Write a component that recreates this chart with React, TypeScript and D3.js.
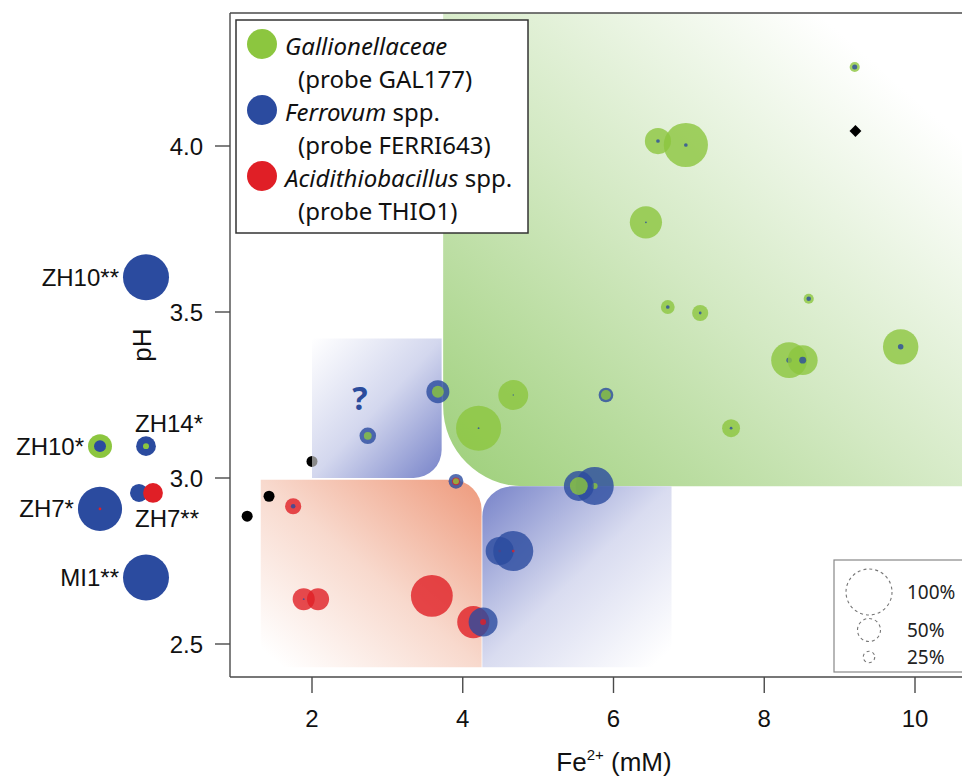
import React from 'react';
import * as d3 from 'd3';

// ---- data ----
const xTicks = [2, 4, 6, 8, 10];
const yTicks = [2.5, 3.0, 3.5, 4.0];

const probes = [
	{ key: 'gal', name: 'Gallionellaceae', suffix: '', probe: '(probe GAL177)', color: '#8cc63f' },
	{ key: 'ferr', name: 'Ferrovum', suffix: ' spp.', probe: '(probe FERRI643)', color: '#2b4b9f' },
	{ key: 'thio', name: 'Acidithiobacillus', suffix: ' spp.', probe: '(probe THIO1)', color: '#e01f26' },
];

// relative abundance (%) of each probe, per sample
const samples = [
	{ fe: 9.20, ph: 4.238, gal: 22, ferr: 11, thio: 0 },
	{ fe: 6.59, ph: 4.015, gal: 57, ferr: 8, thio: 0 },
	{ fe: 6.96, ph: 4.003, gal: 96, ferr: 8, thio: 0 },
	{ fe: 6.43, ph: 3.77, gal: 70, ferr: 4, thio: 0 },
	{ fe: 6.72, ph: 3.515, gal: 30, ferr: 8, thio: 0 },
	{ fe: 7.15, ph: 3.497, gal: 35, ferr: 6, thio: 0 },
	{ fe: 8.59, ph: 3.54, gal: 22, ferr: 10, thio: 0 },
	{ fe: 8.33, ph: 3.355, gal: 78, ferr: 12, thio: 0 },
	{ fe: 8.51, ph: 3.355, gal: 65, ferr: 15, thio: 0 },
	{ fe: 9.81, ph: 3.395, gal: 77, ferr: 12, thio: 0 },
	{ fe: 7.56, ph: 3.15, gal: 39, ferr: 6, thio: 0 },
	{ fe: 4.67, ph: 3.25, gal: 65, ferr: 3, thio: 0 },
	{ fe: 4.21, ph: 3.15, gal: 98, ferr: 4, thio: 0 },
	{ fe: 3.67, ph: 3.26, gal: 26, ferr: 50, thio: 0 },
	{ fe: 5.90, ph: 3.25, gal: 22, ferr: 32, thio: 0 },
	{ fe: 2.74, ph: 3.127, gal: 17, ferr: 36, thio: 0 },
	{ fe: 3.91, ph: 2.99, gal: 13, ferr: 32, thio: 17 },
	{ fe: 1.75, ph: 2.915, gal: 0, ferr: 10, thio: 35 },
	{ fe: 5.75, ph: 2.976, gal: 13, ferr: 83, thio: 0 },
	{ fe: 5.54, ph: 2.976, gal: 39, ferr: 65, thio: 0 },
	{ fe: 4.49, ph: 2.78, gal: 0, ferr: 61, thio: 6 },
	{ fe: 4.67, ph: 2.78, gal: 0, ferr: 87, thio: 6 },
	{ fe: 3.59, ph: 2.645, gal: 0, ferr: 0, thio: 91 },
	{ fe: 1.89, ph: 2.635, gal: 0, ferr: 4, thio: 48 },
	{ fe: 2.08, ph: 2.635, gal: 0, ferr: 0, thio: 48 },
	{ fe: 4.14, ph: 2.566, gal: 0, ferr: 0, thio: 70 },
	{ fe: 4.27, ph: 2.566, gal: 0, ferr: 63, thio: 13 },
];

// samples without Fe2+ value, shown left of the axis
const marginSamples = [
	{ id: 'ZH10**', col: 'inner', ph: 3.605, gal: 0, ferr: 100, thio: 0, label: 'left', split: false },
	{ id: 'ZH10*', col: 'outer', ph: 3.096, gal: 52, ferr: 26, thio: 0, label: 'left', split: false },
	{ id: 'ZH14*', col: 'inner', ph: 3.096, gal: 13, ferr: 43, thio: 0, label: 'above', split: false },
	{ id: 'ZH7**', col: 'inner', ph: 2.955, gal: 0, ferr: 39, thio: 43, label: 'below', split: true },
	{ id: 'ZH7*', col: 'outer', ph: 2.907, gal: 0, ferr: 96, thio: 6, label: 'left', split: false },
	{ id: 'MI1**', col: 'inner', ph: 2.70, gal: 0, ferr: 100, thio: 0, label: 'left', split: false },
];

// no cells detected
const blackDots = [{ fe: 1.43, ph: 2.945 }, { fe: 1.14, ph: 2.885 }];
const halfDots = [{ fe: 2.0, ph: 3.05 }];
const diamonds = [{ fe: 9.21, ph: 4.045 }];

// shaded niches (Fe2+ range, pH range)
const regions = [
	{ id: 'gal', fe: [3.74, 10.85], ph: [2.975, 4.4] },
	{ id: 'unknown', fe: [2.0, 3.72], ph: [3.0, 3.42] },
	{ id: 'thio', fe: [1.32, 4.25], ph: [2.43, 2.995] },
	{ id: 'ferr', fe: [4.26, 6.77], ph: [2.43, 2.975] },
];

const sizeLegend = [100, 50, 25];

// ---- layout ----
const W = 962;
const H = 780;
const plot = { left: 230, top: 13, bottom: 677, right: 975 };

const x = d3.scaleLinear().domain([2, 10]).range([312, 915]);
const y = d3.scaleLinear().domain([2.5, 4.0]).range([644, 146]);
const r = d3.scaleLinear().domain([0, 100]).range([0, 23]);
const col = d3.scaleOrdinal<string, number>().domain(['outer', 'inner']).range([100, 146]);

const AXIS_FONT = 'Liberation Sans, Arial, Helvetica, sans-serif';
const LEG_FONT = 'Noto Sans, Open Sans, sans-serif';

const regionStyle = {
	gal: { corner: 'bl', radius: 80, grad: [0, 1, 1, 0], stops: [['0', '#9dcf79'], ['0.45', '#d3e9c3'], ['0.85', '#ffffff']] },
	unknown: { corner: 'br', radius: 28, grad: [1, 1, 0, 0], stops: [['0', '#7783c9'], ['0.5', '#d3d7ee'], ['1', '#ffffff']] },
	thio: { corner: 'tr', radius: 30, grad: [1, 0, 0, 1], stops: [['0', '#ee9a7c'], ['0.5', '#f8d9cd'], ['0.95', '#ffffff']] },
	ferr: { corner: 'tl', radius: 30, grad: [0, 0, 1, 1], stops: [['0', '#7783c9'], ['0.5', '#d9dcf0'], ['0.95', '#ffffff']] },
};

// rectangle with one rounded corner
function cornerRect(x0, y0, x1, y1, corner, rad) {
	const p = d3.path();
	const pts = { tl: [x0, y0], tr: [x1, y0], br: [x1, y1], bl: [x0, y1] };
	const order = ['tl', 'tr', 'br', 'bl'];
	order.forEach((k, i) => {
		const [cx, cy] = pts[k];
		if (k === corner) {
			const prev = pts[order[(i + 3) % 4]];
			const next = pts[order[(i + 1) % 4]];
			const ax = cx + Math.sign(prev[0] - cx) * rad;
			const ay = cy + Math.sign(prev[1] - cy) * rad;
			if (i === 0) p.moveTo(ax, ay); else p.lineTo(ax, ay);
			p.arcTo(cx, cy, cx + Math.sign(next[0] - cx) * rad, cy + Math.sign(next[1] - cy) * rad, rad);
		} else if (i === 0) {
			p.moveTo(cx, cy);
		} else {
			p.lineTo(cx, cy);
		}
	});
	p.closePath();
	return p.toString();
}

// circles of one sample, largest first
function layers(s) {
	return probes
		.map(pr => ({ color: pr.color, pct: s[pr.key] }))
		.filter(d => d.pct > 0)
		.sort((a, b) => b.pct - a.pct);
}

export default function App() {
	return (
		<div style={{ position: 'absolute', left: 0, top: 0, background: '#fff' }}>
			<svg width={W} height={H} style={{ display: 'block' }}>
				<defs>
					{regions.map((reg) => {
						const st = regionStyle[reg.id];
						return (
							<linearGradient key={reg.id} id={`grad-${reg.id}`} x1={st.grad[0]} y1={st.grad[1]} x2={st.grad[2]} y2={st.grad[3]}>
								{st.stops.map(([o, c]) => <stop key={o} offset={o} stopColor={c} />)}
							</linearGradient>
						);
					})}
					<clipPath id="plot-clip">
						<rect x={plot.left} y={plot.top} width={plot.right - plot.left} height={plot.bottom - plot.top} />
					</clipPath>
				</defs>

				<rect width={W} height={H} fill="#fff" />

				{/* niches */}
				<g clipPath="url(#plot-clip)">
					{regions.map((reg) => {
						const st = regionStyle[reg.id];
						return (
							<path
								key={reg.id}
								d={cornerRect(x(reg.fe[0]), y(reg.ph[1]), x(reg.fe[1]), y(reg.ph[0]), st.corner, st.radius)}
								fill={`url(#grad-${reg.id})`}
							/>
						);
					})}
				</g>

				<text x={360} y={410} textAnchor="middle" fontFamily={LEG_FONT} fontWeight="bold" fontSize={32} fill="#2c4c9c">?</text>

				{/* samples */}
				<g>
					{samples.map((s, i) => (
						<g key={i}>
							{layers(s).map((l, j) => (
								<circle key={j} cx={x(s.fe)} cy={y(s.ph)} r={r(l.pct)} fill={l.color} fillOpacity={0.8} />
							))}
						</g>
					))}
					{blackDots.map((d, i) => (
						<circle key={`b${i}`} cx={x(d.fe)} cy={y(d.ph)} r={5.5} fill="#000" />
					))}
					{halfDots.map((d, i) => {
						const cx = x(d.fe);
						const cy = y(d.ph);
						return (
							<g key={`h${i}`}>
								<path d={`M${cx},${cy - 5.5}A5.5,5.5 0 0 1 ${cx},${cy + 5.5}Z`} fill="#8a8a8a" />
								<path d={`M${cx},${cy - 5.5}A5.5,5.5 0 0 0 ${cx},${cy + 5.5}Z`} fill="#000" />
							</g>
						);
					})}
					{diamonds.map((d, i) => (
						<path key={`d${i}`} d={d3.symbol(d3.symbolDiamond2, 90)()} transform={`translate(${x(d.fe)},${y(d.ph)})`} fill="#000" />
					))}
				</g>

				{/* samples left of axis */}
				<g fontFamily={AXIS_FONT} fontSize={24} fill="#111">
					{marginSamples.map((s) => {
						const cx = col(s.col);
						const cy = y(s.ph);
						const ls = layers(s);
						const rmax = r(ls[0].pct);
						let label;
						if (s.label === 'left') {
							label = <text x={cx - rmax - 4} y={cy + 8.5} textAnchor="end">{s.id}</text>;
						} else if (s.label === 'above') {
							label = <text x={cx - 11} y={cy - 14}>{s.id}</text>;
						} else {
							label = <text x={cx - 11} y={cy + 34}>{s.id}</text>;
						}
						return (
							<g key={s.id}>
								{s.split
									? probes.filter(pr => s[pr.key] > 0).map((pr, j) => (
										<circle key={pr.key} cx={cx + (j === 0 ? -7 : 7)} cy={cy} r={r(s[pr.key])} fill={pr.color} />
									))
									: ls.map((l, j) => (
										<circle key={j} cx={cx} cy={cy} r={r(l.pct)} fill={l.color} />
									))}
								{label}
							</g>
						);
					})}
				</g>

				{/* frame and axes */}
				<g stroke="#4a4a4a" strokeWidth={1.4} fill="none">
					<line x1={plot.left} y1={plot.top} x2={plot.left} y2={plot.bottom} />
					<line x1={plot.left} y1={plot.top} x2={plot.right} y2={plot.top} />
					<line x1={plot.left} y1={plot.bottom} x2={plot.right} y2={plot.bottom} />
				</g>
				<g fontFamily={AXIS_FONT} fontSize={24} fill="#111">
					{yTicks.map(t => (
						<g key={t}>
							<line x1={plot.left - 15} x2={plot.left} y1={y(t)} y2={y(t)} stroke="#4a4a4a" strokeWidth={1.4} />
							<text x={plot.left - 27} y={y(t) + 8.5} textAnchor="end">{t.toFixed(1)}</text>
						</g>
					))}
					{xTicks.map(t => (
						<g key={t}>
							<line x1={x(t)} x2={x(t)} y1={plot.bottom} y2={plot.bottom + 16} stroke="#4a4a4a" strokeWidth={1.4} />
							<text x={x(t)} y={plot.bottom + 50} textAnchor="middle">{t}</text>
						</g>
					))}
					<text x={614} y={771} textAnchor="middle" fontSize={26}>
						Fe<tspan fontSize={15} dy={-11}>2+</tspan><tspan dy={11}> (mM)</tspan>
					</text>
					<text transform={`translate(${151},${(plot.top + plot.bottom) / 2}) rotate(-90)`} textAnchor="middle" fontSize={26}>pH</text>
				</g>

				{/* probe legend */}
				<g fontFamily={LEG_FONT} fontSize={24} fill="#111">
					<rect x={236} y={20} width={292} height={213} fill="#fff" stroke="#333" strokeWidth={1.5} />
					{probes.map((pr, i) => (
						<g key={pr.key} transform={`translate(0,${i * 66})`}>
							<circle cx={262} cy={44} r={15} fill={pr.color} />
							<text x={285} y={55}>
								<tspan fontStyle="italic">{pr.name}</tspan>{pr.suffix}
							</text>
							<text x={298} y={88}>{pr.probe}</text>
						</g>
					))}
				</g>

				{/* size legend */}
				<g fontFamily={LEG_FONT} fontSize={19} fill="#222">
					<rect x={834} y={560} width={140} height={112} fill="#fff" stroke="#888" strokeWidth={1.2} />
					{sizeLegend.map((p, i) => {
						const cy = [592, 630, 657][i];
						return (
							<g key={p}>
								<circle cx={869} cy={cy} r={r(p)} fill="none" stroke="#777" strokeWidth={1.1} strokeDasharray="3,3" />
								<text x={907} y={cy + 7}>{p}%</text>
							</g>
						);
					})}
				</g>
			</svg>
		</div>
	);
}
